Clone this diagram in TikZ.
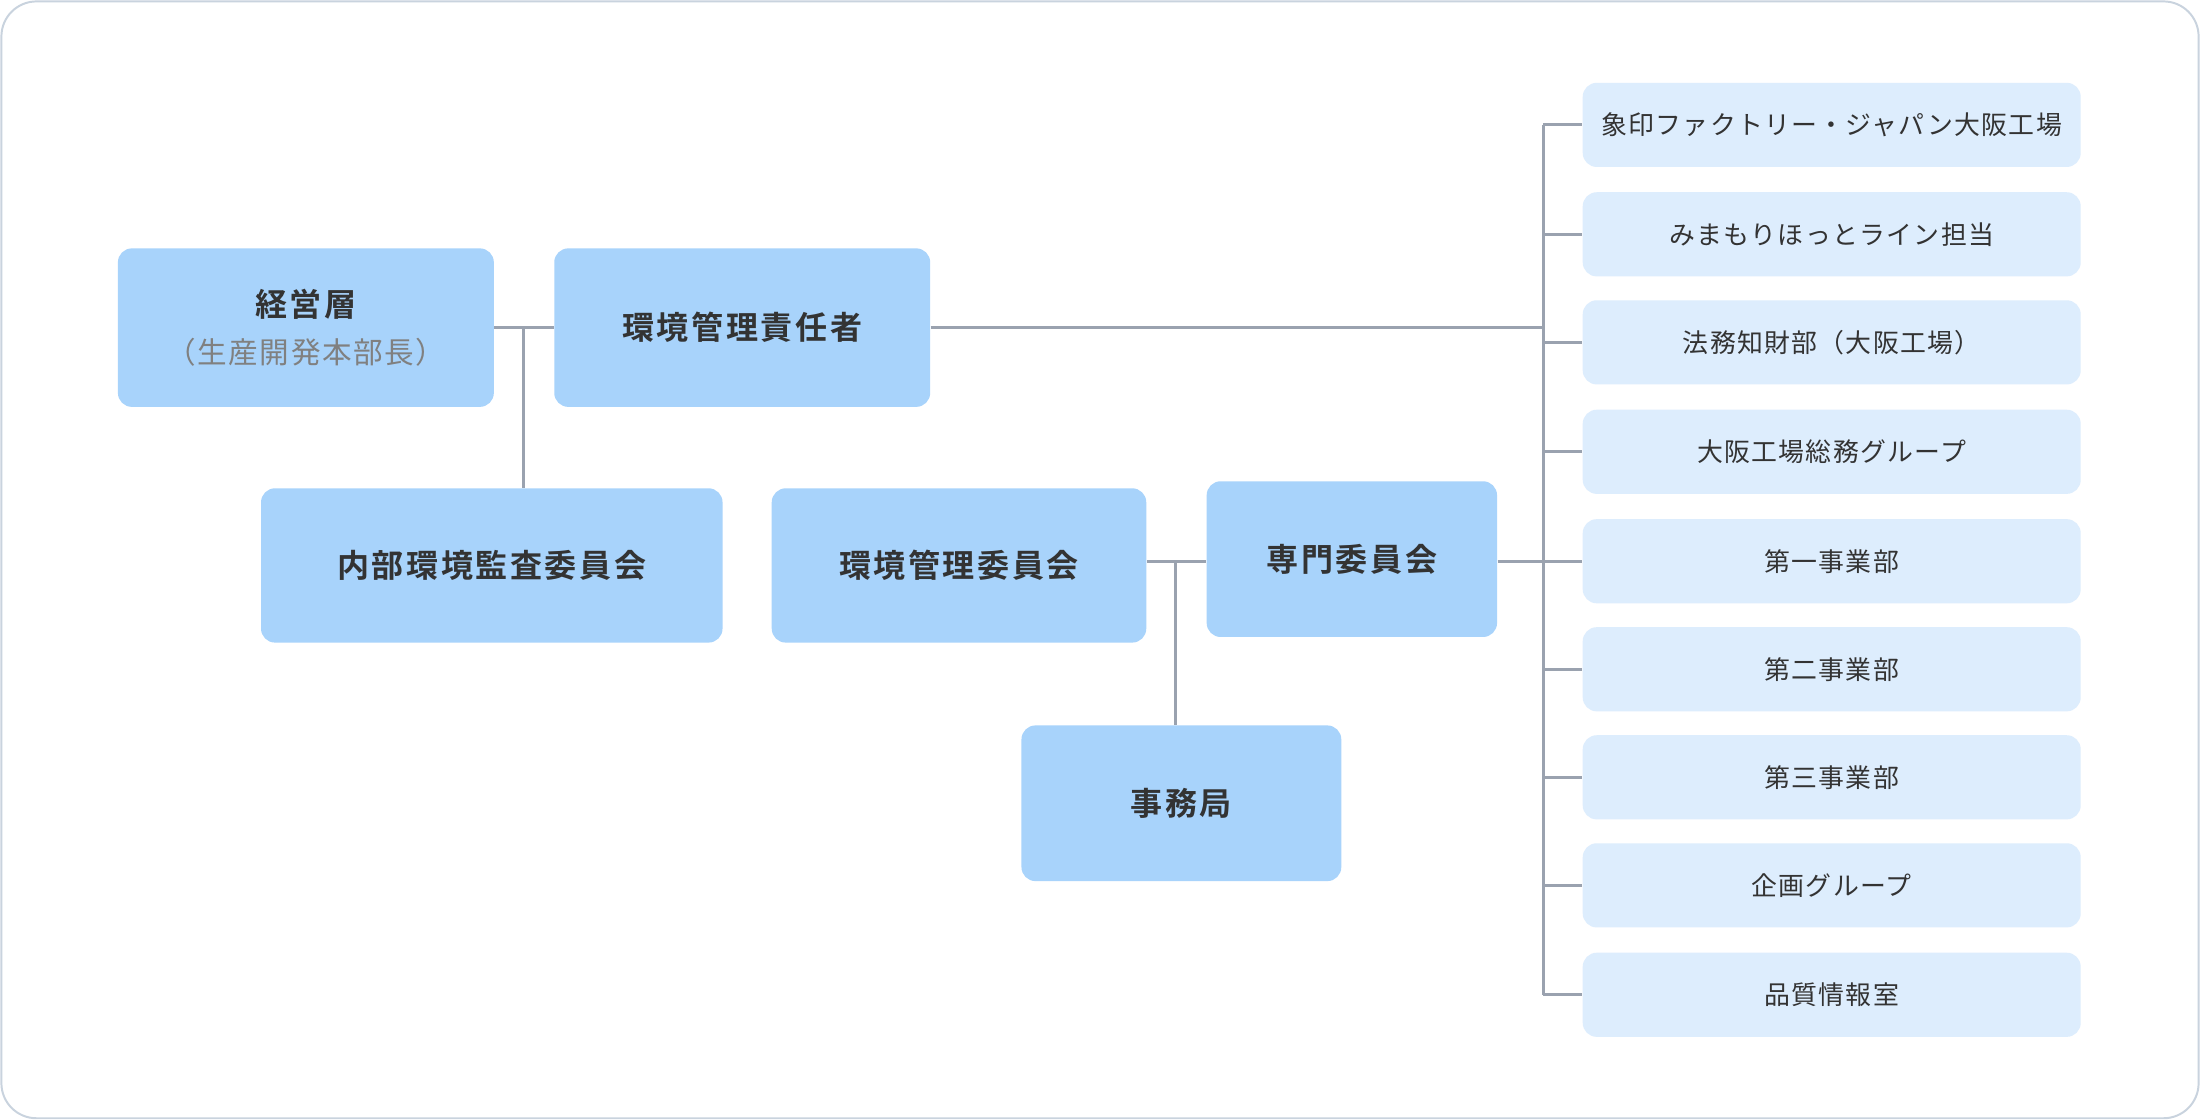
\documentclass[tikz,border=0pt]{standalone}
\usepackage{fontspec}
\setmainfont{Noto Sans CJK JP}
\newfontfamily\jpbold[LetterSpace=8]{Noto Sans CJK JP Bold}
\newfontfamily\jpreg[LetterSpace=5]{Noto Sans CJK JP}
\usetikzlibrary{positioning}
\definecolor{boxdark}{HTML}{A8D3FB}
\definecolor{boxlight}{HTML}{DDEDFD}
\definecolor{wire}{HTML}{9AA2AF}
\definecolor{txt}{HTML}{333333}
\definecolor{frame}{HTML}{C9D3DE}
\tikzset{
  main/.style={rectangle,rounded corners=0.2cm,fill=boxdark,text=txt,font=\jpbold\fontsize{13}{17}\selectfont,align=center,inner sep=0pt},
  unit/.style={rectangle,rounded corners=0.2cm,fill=boxlight,text=txt,font=\jpreg\fontsize{10.5}{13}\selectfont,minimum width=7.1cm,minimum height=1.2cm,inner sep=0pt},
  link/.style={draw=wire,line width=1.2pt}
}
\begin{document}
\begin{tikzpicture}[x=0.02cm,y=-0.02cm]
	\draw [draw=frame,line width=0.8pt,rounded corners=0.5cm,fill=white] (1,1) rectangle (1567,797);
	\useasboundingbox (0,0) rectangle (1568,798);
	% left part
	\node [main,minimum width=5.36cm,minimum height=2.26cm] (top) at (218,233.5) {経営層\\[2pt]{\jpreg\fontsize{12}{15}\selectfont\color{gray}（生産開発本部長）}};
	\node [main,minimum width=5.36cm,minimum height=2.26cm] (rep) at (529,233.5) {環境管理責任者};
	\node [main,minimum width=6.58cm,minimum height=2.2cm] (audit) at (350.5,403) {内部環境監査委員会};
	\node [main,minimum width=5.34cm,minimum height=2.2cm] (comm) at (683.5,403) {環境管理委員会};
	\node [main,minimum width=4.14cm,minimum height=2.22cm] (spec) at (963.5,398.5) {専門委員会};
	\node [main,minimum width=4.56cm,minimum height=2.22cm] (office) at (842,572.5) {事務局};
	% right column
	\foreach \i/\y/\t in {1/89/象印ファクトリー・ジャパン大阪工場,2/167/みまもりほっとライン担当,3/244/法務知財部（大阪工場）,4/322/大阪工場総務グループ,5/400/第一事業部,6/477/第二事業部,7/554/第三事業部,8/631/企画グループ,9/709/品質情報室}
	{
		\node [unit] (u\i) at (1305.5,\y) {\t};
		\draw [link] (1100,\y) -- (u\i.west);
	}
	\coordinate (bus top) at (1100,89);
	\coordinate (bus bot) at (1100,709);
	\coordinate (j1) at (373,233.5);
	\coordinate (j2) at (838,400);
	\draw [link] (bus top) -- (bus bot);
	\draw [link] (top) -- (rep);
	\draw [link] (j1) -- (audit.north -| j1);
	\draw [link] (rep.east) -- (rep.east -| bus top);
	\draw [link] (comm.east |- j2) -- (spec.west |- j2);
	\draw [link] (j2) -- (office.north -| j2);
	\draw [link] (spec.east |- j2) -- (j2 -| bus top);
\end{tikzpicture}
\end{document}
